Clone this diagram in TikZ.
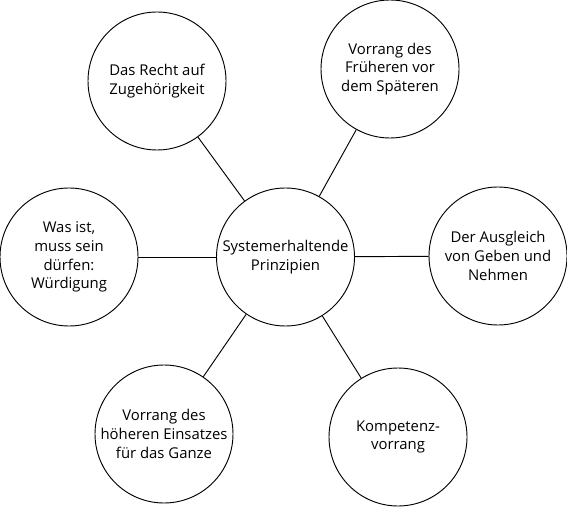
\documentclass[tikz,border=0pt]{standalone}
\usepackage{fontspec}
\setmainfont{Open Sans}
\tikzset{>=latex}
\tikzset{prinzip/.style={draw, circle, line width=.8pt, minimum size=4.14cm, inner sep=0pt, align=center, font=\fontsize{12.7}{16}\selectfont}}

\begin{document}
\begin{tikzpicture}
    \useasboundingbox(0, 0)rectangle(17.01, 15.21);
    \node[prinzip](mitte)at(8.565, 7.5){Systemerhaltende\\Prinzipien};
    \node[prinzip](recht)at(4.71, 12.78){Das Recht auf\\Zugehörigkeit};
    \node[prinzip](frueher)at(11.7, 13.14){Vorrang des\\Früheren vor\\dem Späteren};
    \node[prinzip](wuerdigung)at(2.07, 7.5){Was ist,\\muss sein\\dürfen:\\Würdigung};
    \node[prinzip](ausgleich)at(14.94, 7.53){Der Ausgleich\\von Geben und\\Nehmen};
    \node[prinzip](einsatz)at(4.92, 2.19){Vorrang des\\höheren Einsatzes\\für das Ganze};
    \node[prinzip](kompetenz)at(11.94, 2.1){Kompetenz-\\vorrang};
    \foreach \n in {recht, frueher, wuerdigung, ausgleich, einsatz, kompetenz}
        \draw[line width=.8pt](mitte)--(\n);
\end{tikzpicture}
\end{document}
